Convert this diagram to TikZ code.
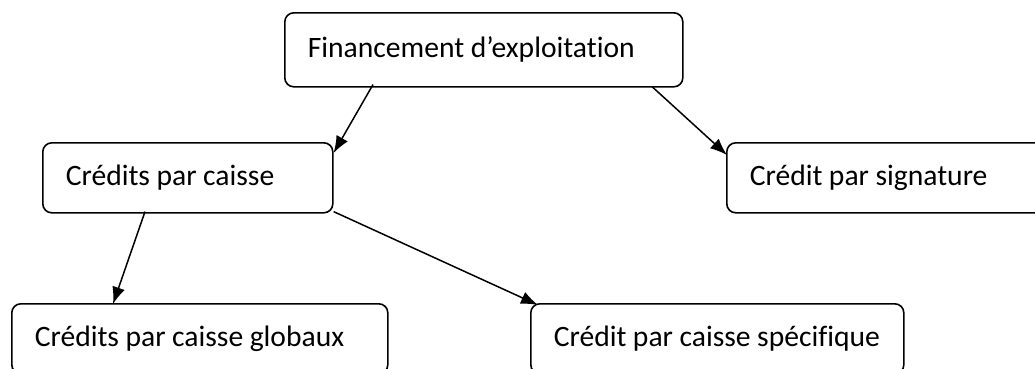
\documentclass[tikz,border=0pt]{standalone}
\usepackage{fontspec}
\setmainfont[RawFeature=-liga]{Carlito}
\usetikzlibrary{arrows.meta,calc}
\newcommand\myspc{\spaceskip=0.22em\relax}
\begin{document}
\begin{tikzpicture}[x=1pt,y=-1pt,
  box/.style={draw, line width=1.6pt, rounded corners=9pt, anchor=north west,
    inner ysep=0pt, inner xsep=23pt, align=left,
    font=\fontsize{29.6}{34}\selectfont},
  arr/.style={line width=1.5pt, -{Latex[length=17pt,width=13pt]}}]
\path[use as bounding box] (0,0) rectangle (1035,368);
\clip (0,0) rectangle (1035,368);
\node[box, minimum width=398pt, minimum height=74pt, text width=352pt] (fin) at (284,12) {\mbox{\myspc Financement d’exploitation}};
\node[box, minimum width=290pt, minimum height=70pt, text width=244pt] (cpc) at (42,142) {\mbox{\myspc Crédits par caisse}};
\node[box, minimum width=330pt, minimum height=70pt, text width=284pt] (cps) at (726,142) {\mbox{\myspc Crédit par signature}};
\node[box, minimum width=376pt, minimum height=70pt, text width=330pt] (glob) at (11,303) {\mbox{\myspc Crédits par caisse globaux}};
\node[box, minimum width=373pt, minimum height=70pt, text width=327pt] (spec) at (530,303) {\mbox{\myspc Crédit par caisse spécifique}};
\draw[arr] ($(fin.south west)+(89,-3)$) -- ($(cpc.north east)+(0,11)$);
\draw[arr] ($(fin.south west)+(368,-1)$) -- ($(cps.north west)+(1,13)$);
\draw[arr] ($(cpc.south west)+(103,-2)$) -- ($(glob.north west)+(102,1)$);
\draw[arr] ($(cpc.south east)+(0,-2)$) -- ($(spec.north west)+(8,2)$);
\end{tikzpicture}
\end{document}
